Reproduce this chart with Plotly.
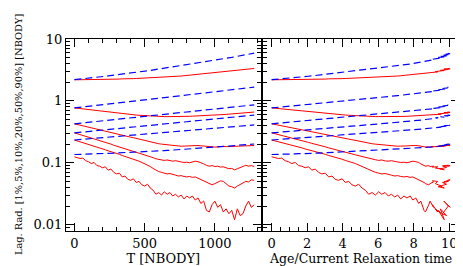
import plotly.graph_objects as go

# ---------------- data ----------------
T_nbody = [0, 20, 40, 60, 80, 100, 120, 140, 160, 180,
           200, 220, 240, 260, 280, 300, 320, 340, 360, 380,
           400, 420, 440, 460, 480, 500, 520, 540, 560, 580,
           600, 620, 640, 660, 680, 700, 720, 740, 760, 780,
           800, 820, 840, 860, 880, 900, 920, 940, 960, 980,
           1000, 1020, 1040, 1060, 1080, 1100, 1120, 1140, 1160, 1180,
           1200, 1220, 1240, 1260, 1280]

age_over_trh = [0.00, 0.19, 0.38, 0.57, 0.76, 0.95, 1.13, 1.33, 1.51, 1.70,
                1.89, 2.08, 2.26, 2.46, 2.64, 2.83, 3.02, 3.21, 3.40, 3.58,
                3.77, 3.97, 4.15, 4.34, 4.52, 4.72, 4.90, 5.09, 5.28, 5.46,
                5.66, 5.84, 6.03, 6.20, 6.39, 6.57, 6.74, 6.93, 7.10, 7.27,
                7.45, 7.62, 7.80, 7.95, 8.12, 8.28, 8.40, 8.58, 8.66, 8.85,
                8.92, 9.12, 9.05, 9.35, 9.22, 9.55, 9.38, 9.72, 9.50, 9.85,
                9.62, 9.95, 9.70, 10.05, 9.90]

# Lagrangian radii (red, measured)
r90 = [2.19, 2.19, 2.20, 2.19, 2.20, 2.20, 2.21, 2.20, 2.22, 2.21,
       2.22, 2.23, 2.22, 2.24, 2.24, 2.25, 2.25, 2.27, 2.26, 2.28,
       2.28, 2.29, 2.30, 2.31, 2.32, 2.33, 2.34, 2.35, 2.36, 2.37,
       2.38, 2.40, 2.41, 2.43, 2.45, 2.47, 2.48, 2.51, 2.52, 2.55,
       2.58, 2.60, 2.62, 2.64, 2.67, 2.70, 2.72, 2.76, 2.78, 2.81,
       2.85, 2.87, 2.91, 2.94, 2.98, 3.02, 3.04, 3.09, 3.11, 3.16,
       3.20, 3.22, 3.27, 3.30, 3.34]
r50 = [0.770, 0.760, 0.750, 0.741, 0.731, 0.721, 0.711, 0.701, 0.692, 0.682,
       0.672, 0.664, 0.655, 0.647, 0.638, 0.630, 0.624, 0.617, 0.611, 0.606,
       0.600, 0.594, 0.590, 0.585, 0.580, 0.576, 0.572, 0.569, 0.566, 0.562,
       0.560, 0.558, 0.557, 0.556, 0.555, 0.556, 0.555, 0.557, 0.558, 0.559,
       0.561, 0.563, 0.566, 0.568, 0.572, 0.575, 0.577, 0.581, 0.583, 0.587,
       0.590, 0.593, 0.597, 0.601, 0.605, 0.610, 0.614, 0.619, 0.624, 0.629,
       0.635, 0.640, 0.647, 0.653, 0.660]
r20 = [0.426, 0.415, 0.405, 0.396, 0.385, 0.376, 0.367, 0.357, 0.349, 0.340,
       0.332, 0.325, 0.316, 0.308, 0.301, 0.293, 0.287, 0.279, 0.273, 0.266,
       0.259, 0.254, 0.247, 0.241, 0.236, 0.229, 0.224, 0.218, 0.213, 0.208,
       0.203, 0.200, 0.197, 0.194, 0.193, 0.190, 0.188, 0.187, 0.185, 0.186,
       0.184, 0.187, 0.189, 0.192, 0.190, 0.188, 0.185, 0.182, 0.180, 0.181,
       0.179, 0.182, 0.181, 0.184, 0.182, 0.183, 0.186, 0.184, 0.187, 0.189,
       0.188, 0.191, 0.190, 0.192, 0.190]
r10 = [0.304, 0.295, 0.285, 0.277, 0.268, 0.260, 0.252, 0.243, 0.236, 0.227,
       0.220, 0.213, 0.206, 0.200, 0.192, 0.186, 0.181, 0.174, 0.169, 0.163,
       0.158, 0.154, 0.148, 0.143, 0.139, 0.134, 0.130, 0.125, 0.121, 0.116,
       0.113, 0.112, 0.109, 0.111, 0.107, 0.106, 0.108, 0.104, 0.103, 0.101,
       0.102, 0.100, 0.103, 0.106, 0.104, 0.101, 0.096, 0.091, 0.088, 0.090,
       0.087, 0.088, 0.085, 0.086, 0.082, 0.080, 0.081, 0.077, 0.080, 0.084,
       0.089, 0.091, 0.088, 0.090, 0.087]
r05 = [0.233, 0.226, 0.219, 0.211, 0.205, 0.198, 0.192, 0.185, 0.179, 0.174,
       0.167, 0.162, 0.156, 0.152, 0.146, 0.141, 0.137, 0.131, 0.127, 0.122,
       0.118, 0.114, 0.109, 0.106, 0.101, 0.097, 0.092, 0.087, 0.081, 0.076,
       0.072, 0.070, 0.068, 0.066, 0.067, 0.064, 0.063, 0.061, 0.062, 0.060,
       0.059, 0.060, 0.058, 0.059, 0.056, 0.054, 0.051, 0.048, 0.046, 0.044,
       0.046, 0.049, 0.051, 0.050, 0.046, 0.042, 0.041, 0.039, 0.042, 0.045,
       0.048, 0.050, 0.049, 0.053, 0.052]
r01 = [0.125, 0.121, 0.117, 0.119, 0.108, 0.104, 0.097, 0.101, 0.090, 0.088,
       0.083, 0.086, 0.076, 0.079, 0.070, 0.066, 0.068, 0.059, 0.061, 0.054,
       0.052, 0.055, 0.048, 0.050, 0.044, 0.042, 0.045, 0.039, 0.036, 0.031,
       0.033, 0.030, 0.034, 0.031, 0.033, 0.029, 0.031, 0.028, 0.030, 0.026,
       0.029, 0.027, 0.029, 0.025, 0.027, 0.022, 0.024, 0.017, 0.016, 0.021,
       0.024, 0.019, 0.021, 0.016, 0.018, 0.015, 0.017, 0.012, 0.018, 0.014,
       0.015, 0.020, 0.024, 0.019, 0.021]

# Model curves (blue dashed)
m90 = [2.20, 2.22, 2.25, 2.27, 2.30, 2.33, 2.35, 2.38, 2.41, 2.44,
       2.47, 2.50, 2.53, 2.57, 2.60, 2.63, 2.67, 2.70, 2.74, 2.78,
       2.82, 2.86, 2.89, 2.94, 2.98, 3.02, 3.07, 3.11, 3.16, 3.21,
       3.25, 3.30, 3.35, 3.41, 3.46, 3.52, 3.57, 3.63, 3.69, 3.75,
       3.81, 3.88, 3.94, 4.01, 4.08, 4.15, 4.22, 4.29, 4.37, 4.45,
       4.53, 4.61, 4.69, 4.78, 4.87, 4.96, 5.05, 5.15, 5.25, 5.35,
       5.45, 5.56, 5.67, 5.78, 5.90]
m50 = [0.769, 0.778, 0.788, 0.797, 0.807, 0.817, 0.827, 0.837, 0.847, 0.857,
       0.868, 0.878, 0.889, 0.900, 0.911, 0.922, 0.933, 0.944, 0.956, 0.967,
       0.979, 0.991, 1.003, 1.015, 1.027, 1.040, 1.052, 1.065, 1.078, 1.091,
       1.105, 1.118, 1.131, 1.145, 1.159, 1.173, 1.187, 1.202, 1.216, 1.231,
       1.246, 1.261, 1.276, 1.292, 1.308, 1.324, 1.340, 1.356, 1.372, 1.389,
       1.406, 1.423, 1.440, 1.458, 1.476, 1.494, 1.512, 1.530, 1.549, 1.567,
       1.586, 1.606, 1.625, 1.645, 1.665]
m20 = [0.426, 0.431, 0.436, 0.440, 0.445, 0.450, 0.455, 0.460, 0.465, 0.471,
       0.476, 0.481, 0.487, 0.492, 0.497, 0.503, 0.508, 0.514, 0.520, 0.525,
       0.531, 0.537, 0.543, 0.549, 0.555, 0.561, 0.567, 0.574, 0.580, 0.586,
       0.593, 0.600, 0.606, 0.613, 0.620, 0.627, 0.634, 0.641, 0.648, 0.655,
       0.662, 0.670, 0.677, 0.685, 0.692, 0.700, 0.708, 0.716, 0.723, 0.731,
       0.739, 0.748, 0.756, 0.764, 0.773, 0.781, 0.790, 0.799, 0.808, 0.817,
       0.826, 0.835, 0.844, 0.854, 0.863]
m10 = [0.304, 0.307, 0.310, 0.314, 0.317, 0.320, 0.324, 0.327, 0.330, 0.334,
       0.337, 0.341, 0.344, 0.348, 0.351, 0.355, 0.359, 0.363, 0.366, 0.370,
       0.374, 0.378, 0.382, 0.386, 0.390, 0.394, 0.398, 0.402, 0.406, 0.411,
       0.415, 0.419, 0.424, 0.428, 0.433, 0.437, 0.442, 0.446, 0.451, 0.455,
       0.460, 0.465, 0.470, 0.475, 0.480, 0.485, 0.490, 0.495, 0.500, 0.505,
       0.510, 0.516, 0.521, 0.526, 0.532, 0.537, 0.543, 0.548, 0.554, 0.560,
       0.566, 0.572, 0.578, 0.584, 0.590]
m05 = [0.233, 0.235, 0.237, 0.239, 0.242, 0.244, 0.246, 0.248, 0.250, 0.252,
       0.254, 0.256, 0.259, 0.261, 0.263, 0.266, 0.268, 0.270, 0.273, 0.275,
       0.278, 0.280, 0.283, 0.285, 0.288, 0.290, 0.293, 0.295, 0.298, 0.300,
       0.303, 0.306, 0.308, 0.311, 0.314, 0.317, 0.320, 0.322, 0.325, 0.328,
       0.331, 0.334, 0.337, 0.340, 0.343, 0.346, 0.349, 0.352, 0.355, 0.358,
       0.361, 0.364, 0.368, 0.371, 0.374, 0.377, 0.381, 0.384, 0.387, 0.391,
       0.394, 0.398, 0.401, 0.405, 0.408]
m01 = [0.136, 0.136, 0.137, 0.137, 0.138, 0.138, 0.139, 0.139, 0.140, 0.140,
       0.141, 0.142, 0.142, 0.143, 0.143, 0.144, 0.145, 0.145, 0.146, 0.147,
       0.148, 0.148, 0.149, 0.149, 0.150, 0.151, 0.152, 0.152, 0.153, 0.154,
       0.155, 0.156, 0.157, 0.158, 0.159, 0.160, 0.161, 0.162, 0.163, 0.165,
       0.166, 0.167, 0.168, 0.170, 0.171, 0.172, 0.173, 0.175, 0.176, 0.178,
       0.179, 0.180, 0.182, 0.183, 0.185, 0.186, 0.188, 0.189, 0.191, 0.192,
       0.194, 0.196, 0.197, 0.199, 0.201]

measured = [r90, r50, r20, r10, r05, r01]
models = [m90, m50, m20, m10, m05, m01]

x1_ticks = [0, 500, 1000]
x1_minor = [100, 200, 300, 400, 600, 700, 800, 900, 1100, 1200, 1300]
x2_ticks = [0, 2, 4, 6, 8, 10]
x2_minor = [0.5, 1, 1.5, 2.5, 3, 3.5, 4.5, 5, 5.5, 6.5, 7, 7.5, 8.5, 9, 9.5, 10.5]
y_ticks = [0.01, 0.1, 1, 10]
y_ticktext = ["0.01", "0.1", "1", "10"]
y_minor = [0.008, 0.009, 0.02, 0.03, 0.04, 0.05, 0.06, 0.07, 0.08, 0.09,
           0.2, 0.3, 0.4, 0.5, 0.6, 0.7, 0.8, 0.9, 2, 3, 4, 5, 6, 7, 8, 9]

RED = "#ff0000"
BLUE = "#0000ff"
FONT = "DejaVu Serif"

fig = go.Figure()
for xs, xa, ya in [(T_nbody, "x", "y"), (age_over_trh, "x2", "y2")]:
    for ys in measured:
        fig.add_trace(go.Scatter(x=xs, y=ys, mode="lines", xaxis=xa, yaxis=ya,
                                 line=dict(color=RED, width=1), showlegend=False,
                                 hoverinfo="skip"))
    for ys in models:
        fig.add_trace(go.Scatter(x=xs, y=ys, mode="lines", xaxis=xa, yaxis=ya,
                                 line=dict(color=BLUE, width=1.2, dash="7px,4px"),
                                 showlegend=False, hoverinfo="skip"))

common_axis = dict(showline=True, linecolor="black", linewidth=1, mirror="ticks",
                   ticks="inside", ticklen=8, tickwidth=1, tickcolor="black",
                   showgrid=False, zeroline=False,
                   tickfont=dict(family=FONT, size=13, color="black"))

fig.update_layout(
    width=463, height=266,
    margin=dict(l=58, r=11, t=31, b=37),
    paper_bgcolor="white", plot_bgcolor="white",
    font=dict(family=FONT, size=13, color="black"),
    xaxis=dict(domain=[0, 0.495], range=[-60, 1325], anchor="y",
               tickmode="array", tickvals=x1_ticks,
               minor=dict(tickmode="array", tickvals=x1_minor, ticks="inside",
                          ticklen=4, tickcolor="black"),
               title=dict(text="T [NBODY]", font=dict(family=FONT, size=13), standoff=3),
               **common_axis),
    xaxis2=dict(domain=[0.502, 1], range=[-0.47, 10.55], anchor="y2",
                tickmode="array", tickvals=x2_ticks,
                minor=dict(tickmode="array", tickvals=x2_minor, ticks="inside",
                           ticklen=4, tickcolor="black"),
                title=dict(text="Age/Current Relaxation time", font=dict(family=FONT, size=12.5),
                           standoff=3),
                **common_axis),
    yaxis=dict(type="log", range=[-2.103, 1.0], anchor="x",
               tickmode="array", tickvals=y_ticks, ticktext=y_ticktext,
               minor=dict(tickmode="array", tickvals=y_minor, ticks="inside",
                          ticklen=4, tickcolor="black"),
               **common_axis),
    yaxis2=dict(type="log", range=[-2.103, 1.0], anchor="x2",
                tickmode="array", tickvals=y_ticks, showticklabels=False,
                minor=dict(tickmode="array", tickvals=y_minor, ticks="inside",
                           ticklen=4, tickcolor="black"),
                **common_axis),
    annotations=[dict(text="Lag. Rad. [1%,5%,10%,20%,50%,90%] [NBODY]",
                      xref="paper", yref="paper", x=-0.122, y=0.5,
                      xanchor="center", yanchor="middle", textangle=-90,
                      showarrow=False, font=dict(family=FONT, size=9.8, color="black"))],
)

fig.write_html("out.html")
